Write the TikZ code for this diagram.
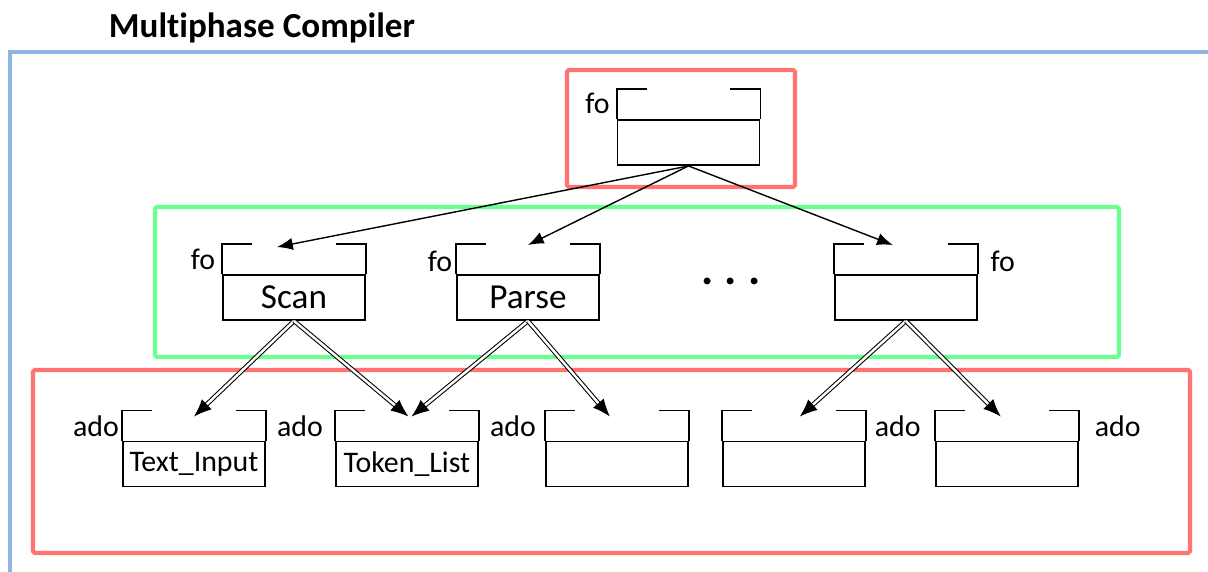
\documentclass[tikz,border=0pt]{standalone}
\usepackage{fontspec}
\setmainfont{Carlito}[Ligatures=NoCommon]
\usepackage{tikz}
\usetikzlibrary{arrows.meta,calc,positioning}
\definecolor{phasered}{HTML}{FF7373}
\definecolor{phasegreen}{HTML}{6AFF90}
\definecolor{phaseblue}{HTML}{8EB4E3}
\tikzset{%
	cell/.style   = {draw, rectangle, line width=1.1pt, inner sep=0pt, minimum width=2.84cm, minimum height=0.9cm}, % Pass / data box
	tab/.style    = {line width=1.1pt}, % Top of box
	tag/.style    = {inner sep=0pt, font=\fontsize{17}{20}\selectfont}, % fo / ado
	frame/.style  = {line width=2.4pt, rounded corners=1pt}, % Group
	link/.style   = {->, >={Latex[length=9pt,width=7pt]}, line width=0.8pt}, % Call
	flow/.style   = {-{Latex[length=10pt,width=8pt]}, double, double distance=1.4pt, line width=0.6pt}, % Data
}
\begin{document}
\begin{tikzpicture}
		\useasboundingbox (0,0) rectangle (24.16,-11.44);
		% frames
		\draw[phaseblue, line width=2.6pt] (0.20,-11.44) -- (0.20,-1.04) -- (24.16,-1.04);
		\node[font=\fontsize{20}{24}\selectfont\bfseries] (title) at (5.24,-0.56) {Multiphase Compiler};
		\draw[frame, phasered] (11.34,-1.40) rectangle (15.90,-3.74);
		\draw[frame, phasegreen] (3.10,-4.14) rectangle (22.38,-7.14);
		\draw[frame, phasered] (0.66,-7.40) rectangle (23.80,-11.06);
		% boxes
		\node[cell] (top) at (13.77,-2.85) {};
		\node[cell, font=\fontsize{20}{24}\selectfont] (scan) at (5.88,-5.95) {Scan};
		\node[cell, font=\fontsize{20}{24}\selectfont, right=1.80cm of scan] (parse) {Parse};
		\node[cell, right=4.68cm of parse] (more) {};
		\node[font=\fontsize{26}{30}\selectfont\bfseries] (dots) at (14.62,-5.62) {.\hspace{0.22cm}.\hspace{0.22cm}.};
		\node[cell, font=\fontsize{17}{20}\selectfont] (ti) at (3.88,-9.28) {Text\_Input};
		\node[cell, font=\fontsize{17}{20}\selectfont, right=1.38cm of ti] (tl) {Token\_List};
		\node[cell, right=1.32cm of tl] (b3) {};
		\node[cell, right=0.66cm of b3] (b4) {};
		\node[cell, right=1.38cm of b4] (b5) {};
		\foreach \n in {top,scan,parse,more,ti,tl,b3,b4,b5}
			\draw[tab] (\n.north west) -- ++(0,0.6) -- ++(0.6,0) (\n.north east) -- ++(0,0.6) -- ++(-0.6,0);
		% labels
		\node[tag] (fo0) at ($(top.north west)+(-0.38,0.32)$) {fo};
		\node[tag] (fo1) at ($(scan.north west)+(-0.38,0.30)$) {fo};
		\node[tag] (fo2) at ($(parse.north west)+(-0.32,0.26)$) {fo};
		\node[tag] (fo3) at ($(more.north east)+(0.50,0.26)$) {fo};
		\node[tag] (ado1) at ($(ti.north west)+(-0.52,0.28)$) {ado};
		\node[tag] (ado2) at ($(ti.north east)+(0.68,0.28)$) {ado};
		\node[tag] (ado3) at ($(tl.north east)+(0.68,0.28)$) {ado};
		\node[tag] (ado4) at ($(b4.north east)+(0.64,0.28)$) {ado};
		\node[tag] (ado5) at ($(b5.north east)+(0.78,0.28)$) {ado};
		% calls
		\draw[link] (top.south) -- ([xshift=-0.34cm,yshift=0.54cm]scan.north);
		\draw[link] (top.south) -- ([yshift=0.58cm]parse.north);
		\draw[link] (top.south) -- ([xshift=-0.26cm,yshift=0.58cm]more.north);
		% data
		\draw[flow] (scan.south) -- ([yshift=0.48cm]ti.north);
		\draw[flow] (scan.south) -- ([xshift=0.03cm,yshift=0.48cm]tl.north);
		\draw[flow] (parse.south) -- ([xshift=0.09cm,yshift=0.48cm]tl.north);
		\draw[flow] (parse.south) -- ([xshift=-0.14cm,yshift=0.48cm]b3.north);
		\draw[flow] (more.south) -- ([xshift=0.12cm,yshift=0.48cm]b4.north);
		\draw[flow] (more.south) -- ([xshift=-0.12cm,yshift=0.48cm]b5.north);
\end{tikzpicture}
\end{document}
